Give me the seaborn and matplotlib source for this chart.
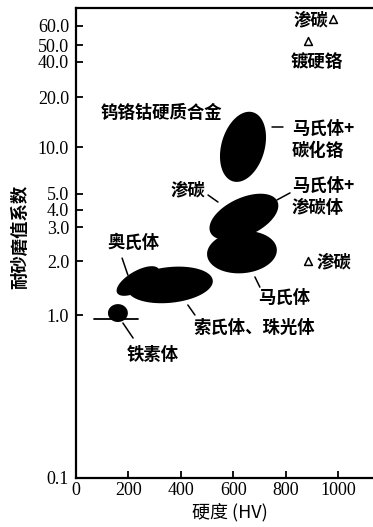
import numpy as np
import pandas as pd
import matplotlib
matplotlib.use("Agg")
import matplotlib.pyplot as plt
from matplotlib.ticker import FixedLocator, NullLocator
import seaborn as sns

# Hardness (HV) and sand-abrasion resistance coefficient ranges of each microstructure
regions = ["钨铬钴硬质合金", "马氏体+渗碳体", "马氏体", "索氏体、珠光体", "奥氏体", "铁素体"]
hv_low = [555, 500, 500, 195, 145, 122]
hv_high = [720, 782, 767, 523, 328, 198]
coef_low = [5.9, 2.70, 1.71, 1.17, 1.36, 0.906]
coef_high = [16.5, 4.73, 2.86, 1.85, 1.76, 1.15]
tilt_deg = [-16, 25, 5, 6, 30, 0]

# Surface treatments shown as single points
treatments = ["渗碳", "镀硬铬", "渗碳"]
treat_hv = [980, 885, 885]
treat_coef = [65.0, 52.0, 2.0]

# Spread of ferrite hardness
ferrite_hv = [70, 235]
ferrite_coef = [0.945, 0.945]

x_ticks = [0, 200, 400, 600, 800, 1000]
y_ticks = [0.1, 1.0, 2.0, 3.0, 4.0, 5.0, 10.0, 20.0, 40.0, 50.0, 60.0]
y_tick_labels = ["0.1", "1.0", "2.0", "3.0", "4.0", "5.0", "10.0", "20.0", "40.0", "50.0", "60.0"]

# The coefficient axis is a hand-graduated logarithmic ruler: each labelled value sits
# at its own height, with log interpolation in between.
ruler_values = np.array([0.1, 1.0, 2.0, 3.0, 4.0, 5.0, 10.0, 20.0, 40.0, 50.0, 60.0, 74.0])
ruler_height = np.array([0, 163, 217, 251, 268, 284, 331, 381, 416, 433, 452, 470], dtype=float)
ruler_logs = np.log10(ruler_values)


def ruler_forward(v):
    v = np.clip(np.asarray(v, dtype=float), 1e-6, None)
    return np.interp(np.log10(v), ruler_logs, ruler_height)


def ruler_inverse(u):
    return 10 ** np.interp(np.asarray(u, dtype=float), ruler_height, ruler_logs)


sns.set_theme(style="white")
plt.rcParams["font.family"] = ["Noto Sans CJK SC", "DejaVu Sans"]

W, H = 373, 527
fig = plt.figure(figsize=(W / 100, H / 100), dpi=100)
ax = fig.add_axes([76 / W, 1 - 478 / H, 296 / W, 470 / H])
ax.set_yscale("function", functions=(ruler_forward, ruler_inverse))
ax.set_xlim(0, 1130)
ax.set_ylim(0.1, 74.0)

# frame: left, top and bottom only
for side in ["left", "top", "bottom"]:
    ax.spines[side].set_visible(True)
    ax.spines[side].set_color("black")
    ax.spines[side].set_linewidth(1.6)
ax.spines["right"].set_visible(False)

serif = "Liberation Serif"
ax.xaxis.set_major_locator(FixedLocator(x_ticks))
ax.yaxis.set_major_locator(FixedLocator(y_ticks))
ax.yaxis.set_minor_locator(NullLocator())
ax.xaxis.set_minor_locator(NullLocator())
ax.set_xticklabels([str(v) for v in x_ticks], family=serif, fontsize=13)
ax.set_yticklabels(y_tick_labels, family=serif, fontsize=13)
ax.tick_params(axis="both", direction="in", length=5, width=1.3, color="black",
               labelcolor="black", top=False, right=False, bottom=True, left=True)
ax.tick_params(axis="y", pad=5)
ax.tick_params(axis="x", pad=3)
ax.grid(False)


def draw_region(x0, x1, y0, y1, tilt):
    # ellipse built in display space so its tilt reads correctly on the ruler axis
    px0, py0 = ax.transData.transform((x0, y0))
    px1, py1 = ax.transData.transform((x1, y1))
    cx, cy = 0.5 * (px0 + px1), 0.5 * (py0 + py1)
    a, b = 0.5 * (px1 - px0), 0.5 * (py1 - py0)
    t = np.linspace(0, 2 * np.pi, 240)
    th = np.radians(tilt)
    ex, ey = a * np.cos(t), b * np.sin(t)
    dx = ex * np.cos(th) - ey * np.sin(th)
    dy = ex * np.sin(th) + ey * np.cos(th)
    pts = ax.transData.inverted().transform(np.column_stack([cx + dx, cy + dy]))
    ax.fill(pts[:, 0], pts[:, 1], color="black", lw=0, zorder=3)


# ferrite hardness spread
sns.lineplot(x=ferrite_hv, y=ferrite_coef, ax=ax, color="black", lw=1.3, zorder=2)

for i in range(len(regions)):
    draw_region(hv_low[i], hv_high[i], coef_low[i], coef_high[i], tilt_deg[i])

pts_df = pd.DataFrame({"hv": treat_hv, "coef": treat_coef, "name": treatments})
sns.scatterplot(data=pts_df, x="hv", y="coef", ax=ax, marker="^", s=32,
                facecolor="white", edgecolor="black", linewidth=1.1, zorder=4, legend=False)
ax.set_xlabel("")
ax.set_ylabel("")

cjk = dict(fontsize=12.5, fontweight="bold", color="black")


def leader(x0, y0, x1, y1):
    ax.plot([x0, x1], [y0, y1], color="black", lw=1.1, zorder=4)


ax.text(328, 16.0, "钨铬钴硬质合金", ha="center", va="center", **cjk)
ax.text(427, 5.30, "渗碳", ha="center", va="center", **cjk)
leader(504, 4.93, 542, 4.47)

ax.text(824, 11.0, "马氏体+\n碳化铬", ha="left", va="center", linespacing=1.25, **cjk)
leader(748, 13.2, 790, 13.2)

ax.text(824, 4.80, "马氏体+\n渗碳体", ha="left", va="center", linespacing=1.25, **cjk)
leader(767, 4.60, 817, 5.08)

ax.text(218, 2.48, "奥氏体", ha="center", va="center", **cjk)
leader(176, 2.07, 198, 1.67)

ax.text(920, 1.975, "渗碳", ha="left", va="center", **cjk)

ax.text(794, 1.24, "马氏体", ha="center", va="center", **cjk)
leader(683, 1.63, 702, 1.43)

ax.text(679, 0.832, "索氏体、珠光体", ha="center", va="center", **cjk)
leader(427, 1.137, 454, 1.0)

ax.text(294, 0.568, "铁素体", ha="center", va="center", **cjk)
leader(179, 0.893, 218, 0.722)

ax.text(897, 63.9, "渗碳", ha="center", va="center", **cjk)
ax.text(920, 40.0, "镀硬铬", ha="center", va="center", **cjk)

fig.text(20 / W, 1 - 237 / H, "耐砂磨值系数", rotation=90, ha="center", va="center",
         fontsize=12.5, fontweight="bold", color="black")
fig.text(230 / W, 1 - 512 / H, "硬度 (HV)", ha="center", va="center",
         fontsize=13, color="black")

fig.savefig("out.png", dpi=100, facecolor="white")
